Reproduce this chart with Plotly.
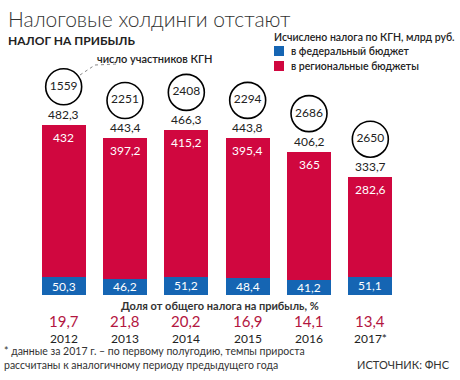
import plotly.graph_objects as go

years = ["2012", "2013", "2014", "2015", "2016", "2017*"]
federal = [50.3, 46.2, 51.2, 48.4, 41.2, 51.1]
regional = [432, 397.2, 415.2, 395.4, 365, 282.6]
totals = [482.3, 443.4, 466.3, 443.8, 406.2, 333.7]
participants = [1559, 2251, 2408, 2294, 2686, 2650]
share = [19.7, 21.8, 20.2, 16.9, 14.1, 13.4]

series_names = ["в федеральный бюджет", "в региональные бюджеты"]

RED = "#d0073f"
BLUE = "#1565b3"
DARKRED = "#b3163f"
TXT = "#222222"
FONT = "Lato"

W, H = 460, 380
L, R, T, B = 33, 59, 40, 85
PW, PH = W - L - R, H - T - B
SCALE = 0.353  # px per unit
YMAX = PH / SCALE
CIRC_OFF = 38 / SCALE


def ru(v):
    return f"{v:g}".replace(".", ",")


def px(x):
    return (x - L) / PW


def py(y):
    return (H - B - y) / PH


idx = list(range(len(years)))

fig = go.Figure()
fig.add_trace(go.Bar(x=idx, y=federal, marker=dict(color=BLUE, line=dict(width=0)),
                     name=series_names[0], width=0.72, showlegend=False))
fig.add_trace(go.Bar(x=idx, y=regional, marker=dict(color=RED, line=dict(width=0)),
                     name=series_names[1], width=0.72, showlegend=False))
fig.add_trace(go.Scatter(
    x=idx, y=[t + CIRC_OFF for t in totals], mode="markers+text",
    text=[str(p) for p in participants], textposition="middle center",
    textfont=dict(size=12, color=TXT, family=FONT),
    marker=dict(size=36, color="white", line=dict(color="black", width=1.6)),
    cliponaxis=False, showlegend=False, hoverinfo="skip"))

ann = []
shapes = []
for i in idx:
    ann.append(dict(x=i, y=totals[i], xref="x", yref="y", text=ru(totals[i]),
                    showarrow=False, yanchor="bottom", yshift=1,
                    font=dict(size=12, color=TXT, family=FONT)))
    ann.append(dict(x=i, y=totals[i], xref="x", yref="y", text=ru(regional[i]),
                    showarrow=False, yanchor="top", yshift=-3,
                    font=dict(size=12, color="white", family=FONT)))
    ann.append(dict(x=i, y=federal[i] / 2, xref="x", yref="y", text=ru(federal[i]),
                    showarrow=False, yanchor="middle",
                    font=dict(size=12, color="white", family=FONT)))
    ann.append(dict(x=i, y=py(321), xref="x", yref="paper", text=ru(share[i]),
                    showarrow=False, yanchor="middle",
                    font=dict(size=15, color=DARKRED, family=FONT)))
    ann.append(dict(x=i, y=py(338), xref="x", yref="paper", text=years[i],
                    showarrow=False, yanchor="middle",
                    font=dict(size=12, color=TXT, family=FONT)))

# titles
ann.append(dict(x=px(6), y=py(18), xref="paper", yref="paper", xanchor="left", yanchor="middle",
                text="Налоговые холдинги отстают", showarrow=False,
                font=dict(size=21, color="#333333", family=FONT, weight=300)))
ann.append(dict(x=px(6), y=py(40), xref="paper", yref="paper", xanchor="left", yanchor="middle",
                text="<b>НАЛОГ НА ПРИБЫЛЬ</b>", showarrow=False,
                font=dict(size=12, color=TXT, family=FONT)))
# legend
ann.append(dict(x=px(272), y=py(37), xref="paper", yref="paper", xanchor="left", yanchor="middle",
                text="Исчислено налога по КГН, млрд руб.", showarrow=False,
                font=dict(size=10.5, color=TXT, family=FONT, weight=600)))
for k, (name, col) in enumerate(zip(series_names, [BLUE, RED])):
    cy = 51 + k * 15
    shapes.append(dict(type="rect", xref="paper", yref="paper",
                       x0=px(274), x1=px(284), y0=py(cy + 5), y1=py(cy - 5),
                       fillcolor=col, line=dict(width=0)))
    ann.append(dict(x=px(289), y=py(cy), xref="paper", yref="paper", xanchor="left", yanchor="middle",
                    text=name, showarrow=False,
                    font=dict(size=10.5, color=TXT, family=FONT, weight=600)))
# participants label + dotted leader
ann.append(dict(x=px(95), y=py(59), xref="paper", yref="paper", xanchor="left", yanchor="middle",
                text="число участников КГН", showarrow=False,
                font=dict(size=11, color=TXT, family=FONT, weight=600)))
shapes.append(dict(type="path", xref="paper", yref="paper",
                   path=f"M {px(80)},{py(75)} L {px(95)},{py(65)} L {px(118)},{py(64)}",
                   line=dict(color="#888888", width=1, dash="dot")))
# bottom texts
ann.append(dict(x=px(220), y=py(305), xref="paper", yref="paper", xanchor="center", yanchor="middle",
                text="<b>Доля от общего налога на прибыль, %</b>", showarrow=False,
                font=dict(size=11, color="#333333", family=FONT)))
ann.append(dict(x=px(2), y=py(358), xref="paper", yref="paper", xanchor="left", yanchor="middle",
                align="left",
                text="* данные за 2017 г. – по первому полугодию, темпы прироста<br>рассчитаны к аналогичному периоду предыдущего года",
                showarrow=False, font=dict(size=10.5, color="#333333", family=FONT)))
ann.append(dict(x=px(452), y=py(364), xref="paper", yref="paper", xanchor="right", yanchor="middle",
                text="ИСТОЧНИК: ФНС", showarrow=False,
                font=dict(size=11, color="#333333", family=FONT)))

fig.update_layout(
    width=W, height=H, autosize=False,
    margin=dict(l=L, r=R, t=T, b=B, pad=0),
    barmode="stack",
    plot_bgcolor="white", paper_bgcolor="white",
    xaxis=dict(range=[-0.5, 5.5], visible=False, fixedrange=True),
    yaxis=dict(range=[0, YMAX], visible=False, fixedrange=True),
    annotations=ann, shapes=shapes,
    font=dict(family=FONT, color=TXT),
    showlegend=False,
)

fig.write_html("out.html", config={"displayModeBar": False},
               post_script="document.body.style.margin='0';")
